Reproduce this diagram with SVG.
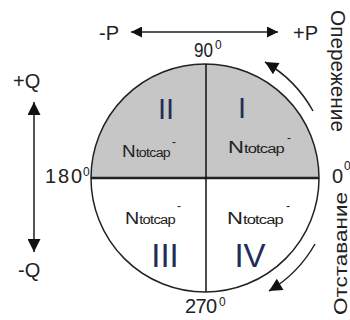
<svg xmlns="http://www.w3.org/2000/svg" width="350" height="320" viewBox="0 0 350 320">
<style>
text{font-family:"Liberation Sans",Arial,sans-serif;fill:#222}
.lbl{font-size:20px}
.sup{font-size:12px}
.rom{fill:#1f2d5a}
.nt{font-size:16px}
.nt2{font-size:12px;letter-spacing:-0.6px}
.conn{fill:none;stroke:#222;stroke-width:1.5}
</style>
<defs>
<marker id="ah" viewBox="0 0 10 10" refX="10" refY="5" markerUnits="userSpaceOnUse" markerWidth="14" markerHeight="11" orient="auto">
<path d="M0,0 L10,5 L0,10 z" fill="#111"/>
</marker>
<marker id="ahb" viewBox="0 0 10 10" refX="10" refY="5" markerUnits="userSpaceOnUse" markerWidth="18" markerHeight="13" orient="auto">
<path d="M0,0 L10,5 L0,10 z" fill="#111"/>
</marker>
</defs>
<g id="circle">
<path d="M91,178 A114,114 0 0 1 319,178 Z" fill="#c6c6c6"/>
<circle cx="205" cy="178" r="114" fill="none" stroke="#222" stroke-width="1.5"/>
<line x1="91" y1="178" x2="319" y2="178" stroke="#222" stroke-width="2.5"/>
<line x1="206" y1="64" x2="206" y2="292" stroke="#111" stroke-width="1.5"/>
</g>
<g id="q2">
<text class="rom" x="166" y="119" font-size="29" text-anchor="middle">II</text>
<text x="122" y="157" textLength="48" lengthAdjust="spacingAndGlyphs"><tspan class="nt">N</tspan><tspan class="nt2">totcap</tspan></text>
<text class="sup" x="172" y="146">-</text>
</g>
<g id="q1">
<text class="rom" x="242" y="118" font-size="29" text-anchor="middle">I</text>
<text x="228" y="153" textLength="56" lengthAdjust="spacingAndGlyphs"><tspan class="nt">N</tspan><tspan class="nt2">totcap</tspan></text>
<text class="sup" x="287" y="142">-</text>
</g>
<g id="q3">
<text x="125" y="224" textLength="50" lengthAdjust="spacingAndGlyphs"><tspan class="nt">N</tspan><tspan class="nt2">totcap</tspan></text>
<text class="sup" x="177" y="210">-</text>
<text class="rom" x="165" y="267" font-size="33" text-anchor="middle">III</text>
</g>
<g id="q4">
<text x="227" y="224" textLength="56" lengthAdjust="spacingAndGlyphs"><tspan class="nt">N</tspan><tspan class="nt2">totcap</tspan></text>
<text class="sup" x="286" y="210">-</text>
<text class="rom" x="250" y="267" font-size="33" text-anchor="middle">IV</text>
</g>
<g id="angles">
<text class="lbl" x="194" y="57" textLength="19" lengthAdjust="spacingAndGlyphs">90</text><text class="sup" x="215" y="49">0</text>
<text class="lbl" x="45" y="183" textLength="37">180</text><text class="sup" x="83" y="176">0</text>
<text class="lbl" x="332" y="183">0</text><text class="sup" x="344" y="170">0</text>
<text class="lbl" x="185" y="313" textLength="32">270</text><text class="sup" x="219" y="306">0</text>
</g>
<g id="axis-labels">
<text class="lbl" x="99" y="40">-P</text>
<text class="lbl" x="293" y="40">+P</text>
<text class="lbl" x="13" y="88">+Q</text>
<text class="lbl" x="18" y="277">-Q</text>
<text font-size="20" transform="translate(331,10) rotate(90)" textLength="122" lengthAdjust="spacingAndGlyphs">Опережение</text>
<text font-size="19" transform="translate(347,315) rotate(-90)" textLength="123" lengthAdjust="spacingAndGlyphs">Отставание</text>
</g>
<g id="connectors">
<line class="conn" x1="205" y1="32" x2="131" y2="32" marker-end="url(#ah)"/>
<line class="conn" x1="205" y1="32" x2="278" y2="32" marker-end="url(#ah)"/>
<line x1="34" y1="175" x2="34" y2="102" stroke="#555" stroke-width="2" marker-end="url(#ahb)"/>
<line x1="34" y1="175" x2="34" y2="252" stroke="#555" stroke-width="2" marker-end="url(#ahb)"/>
<path class="conn" d="M313,111 A129,129 0 0 0 265,62" marker-end="url(#ahb)"/>
<path class="conn" d="M315,244 A129,129 0 0 1 269,291" marker-end="url(#ahb)"/>
</g>
</svg>
